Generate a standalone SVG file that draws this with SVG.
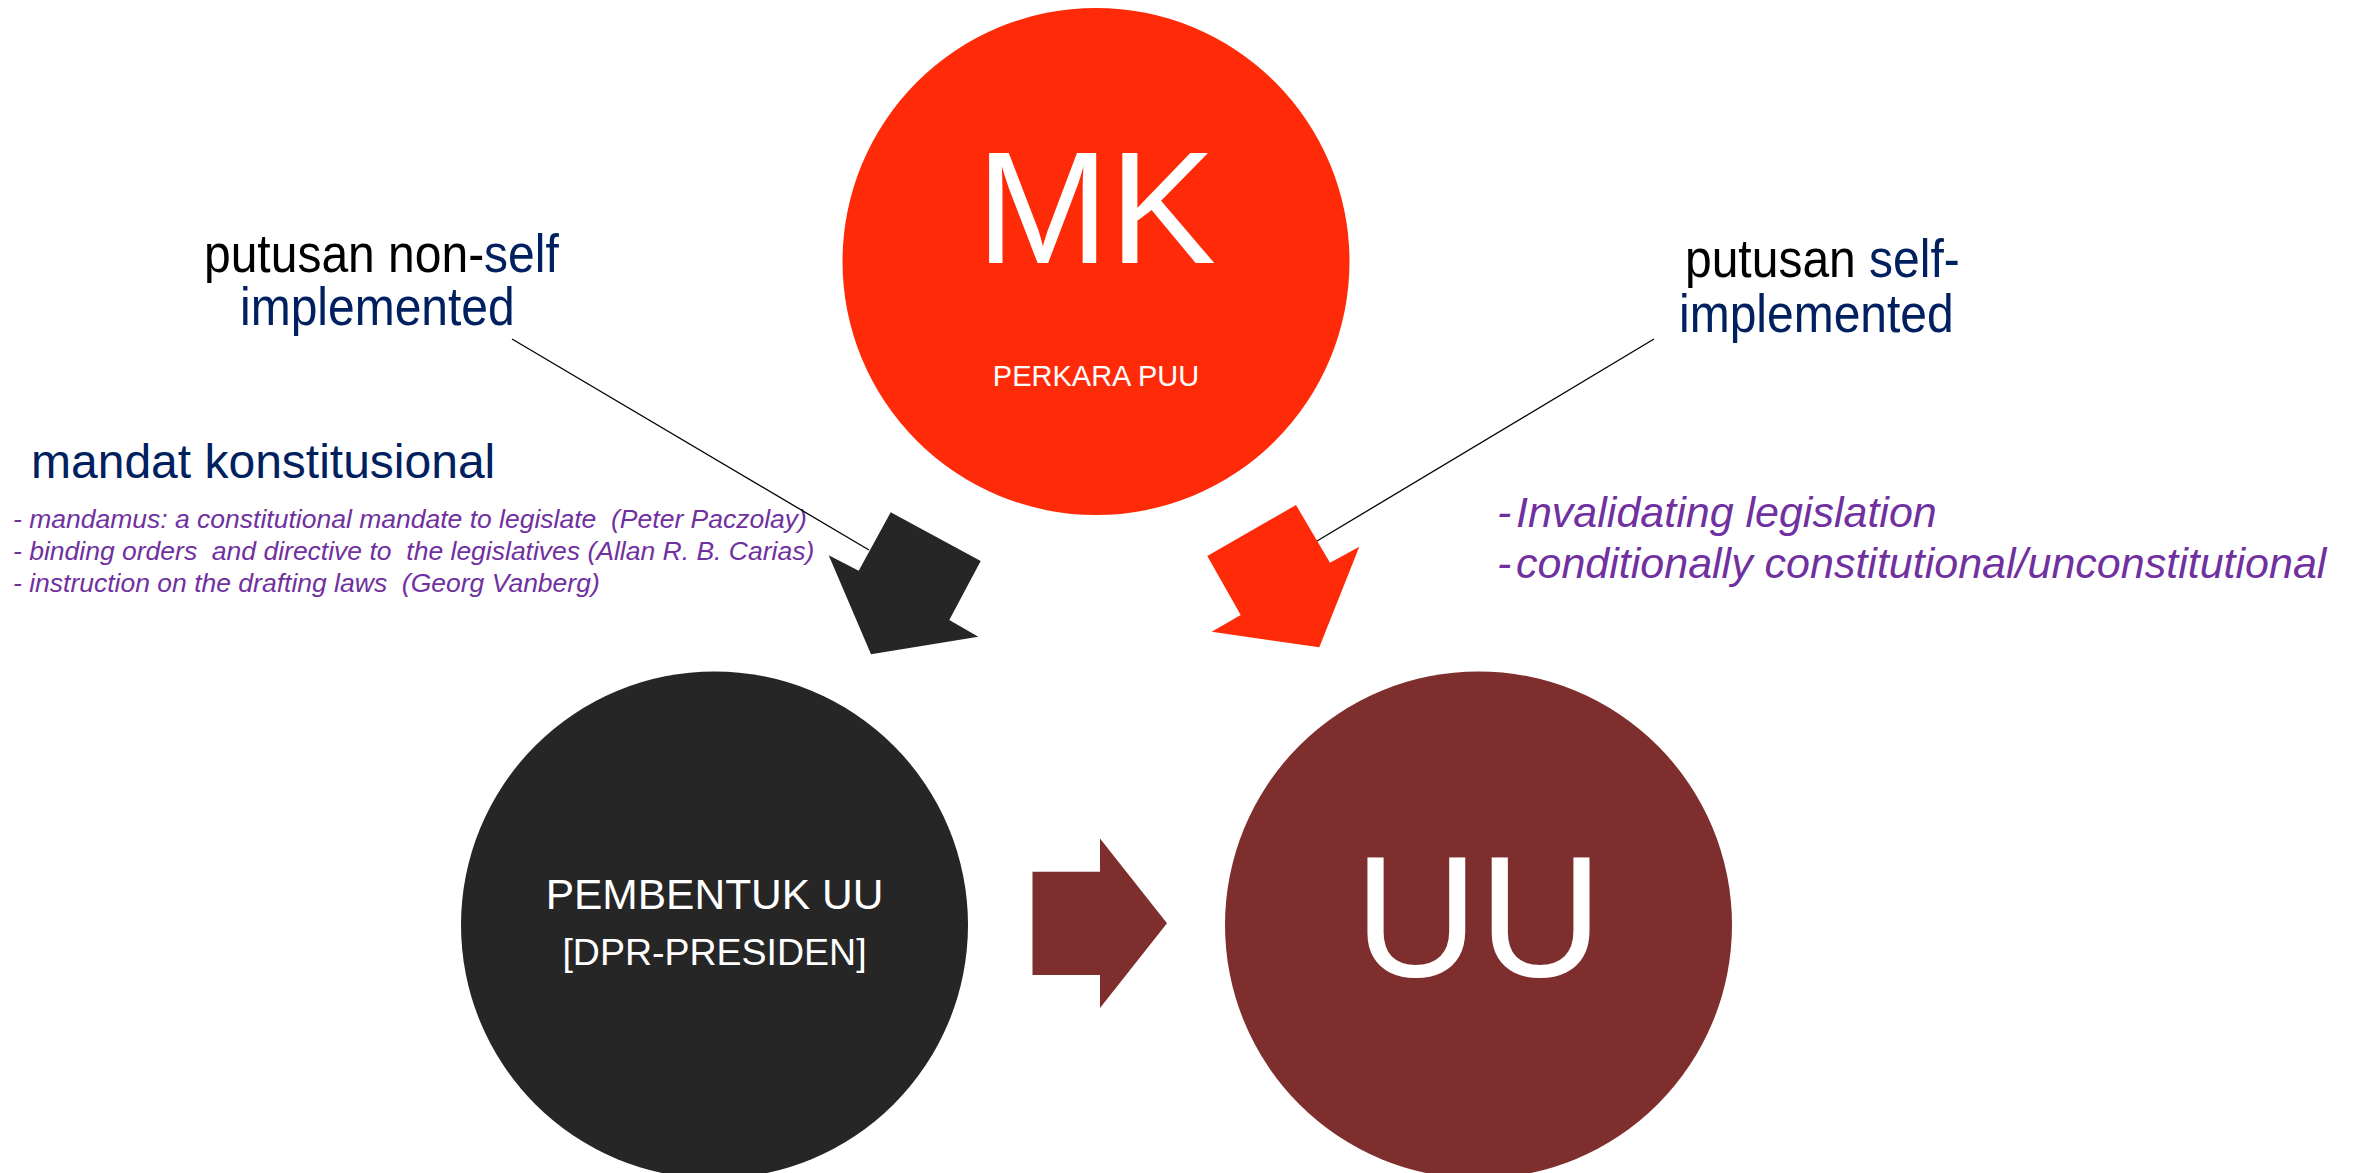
<svg xmlns="http://www.w3.org/2000/svg" width="2353" height="1173" viewBox="0 0 2353 1173">
<style>
text { font-family: "Liberation Sans", Arial, sans-serif; }
.w { fill: #ffffff; }
.blk { fill: #000000; }
.navy { fill: #002060; }
.pur { fill: #7030A0; font-style: italic; }
.lbl { font-size: 48px; }
.ref { font-size: 26.5px; }
.big { font-size: 43px; }
.thin { stroke: #000000; stroke-width: 1.3; fill: none; }
</style>
<rect x="0" y="0" width="2353" height="1173" fill="#ffffff"/>

<g id="node-mk">
  <circle cx="1096" cy="261.5" r="253.5" fill="#FF2A08"/>
  <text class="w" x="1096" y="263" font-size="160" text-anchor="middle">MK</text>
  <text class="w" x="1096" y="386" font-size="29" text-anchor="middle">PERKARA PUU</text>
</g>

<g id="node-pembentuk">
  <circle cx="714.5" cy="925" r="253.5" fill="#262626"/>
  <text class="w" x="714.5" y="909" font-size="42.5" text-anchor="middle">PEMBENTUK UU</text>
  <text class="w" x="714.5" y="965" font-size="37.5" text-anchor="middle">[DPR-PRESIDEN]</text>
</g>

<g id="node-uu">
  <circle cx="1478.5" cy="925" r="253.5" fill="#7E2F2D"/>
  <text class="w" x="1478.5" y="976" font-size="172" text-anchor="middle">UU</text>
</g>

<g id="label-nonself">
  <text class="lbl" transform="translate(204 272) scale(1 1.1)" x="0" y="0"><tspan class="blk">putusan non-</tspan><tspan class="navy">self</tspan></text>
  <text class="lbl navy" transform="translate(240 325) scale(1 1.1)" x="0" y="0">implemented</text>
</g>

<g id="label-self">
  <text class="lbl" transform="translate(1685 277) scale(1 1.1)" x="0" y="0" xml:space="preserve"><tspan class="blk">putusan </tspan><tspan class="navy">self-</tspan></text>
  <text class="lbl navy" transform="translate(1679 332) scale(1 1.1)" x="0" y="0">implemented</text>
</g>

<g id="label-mandat">
  <text class="lbl navy" x="31" y="478">mandat konstitusional</text>
  <text class="pur ref" x="13" y="528" xml:space="preserve">- mandamus: a constitutional mandate to legislate  (Peter Paczolay)</text>
  <text class="pur ref" x="13" y="560" xml:space="preserve">- binding orders  and directive to  the legislatives (Allan R. B. Carias)</text>
  <text class="pur ref" x="13" y="592" xml:space="preserve">- instruction on the drafting laws  (Georg Vanberg)</text>
</g>

<g id="label-invalidating">
  <text class="pur big" x="1497" y="527">-<tspan x="1516">Invalidating legislation</tspan></text>
  <text class="pur big" x="1497" y="578">-<tspan x="1516">conditionally constitutional/unconstitutional</tspan></text>
</g>

<g id="connectors">
  <line class="thin" x1="512" y1="339" x2="869" y2="550"/>
  <line class="thin" x1="1654" y1="339" x2="1317" y2="541"/>
  <polygon fill="#262626" points="890.7,512.3 980.7,561 949.3,620 978.3,636.7 871,654.3 828.7,555.3 858.7,570.7"/>
  <polygon fill="#FF2A08" points="1296,505 1330,562.7 1359.3,546.7 1319.3,647.3 1211.7,631.7 1240.7,615 1207.3,556"/>
  <polygon fill="#7E2F2D" points="1032.5,871.7 1100,871.7 1100,838.5 1167,923.3 1100,1008 1100,975 1032.5,975"/>
</g>
</svg>
